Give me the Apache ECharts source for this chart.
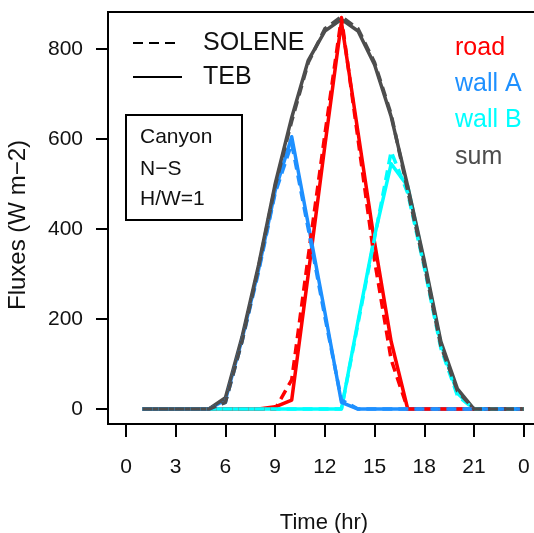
<!DOCTYPE html>
<html>
<head>
<meta charset="utf-8">
<script src="https://cdn.jsdelivr.net/npm/echarts@6/dist/echarts.min.js"></script>
<style>
html, body { margin: 0; padding: 0; background: #fff; }
#chart { width: 534px; height: 533px; }
</style>
</head>
<body>
<div id="chart"></div>
<script>
// hourly values, hours 1..24
const hours = [1, 2, 3, 4, 5, 6, 7, 8, 9, 10, 11, 12, 13, 14, 15, 16, 17, 18, 19, 20, 21, 22, 23, 24]

const roadTEB = [0, 0, 0, 0, 0, 0, 0, 0, 5, 20, 300, 585, 860, 615, 370, 150, 0, 0, 0, 0, 0, 0, 0, 0]
const wallATEB = [0, 0, 0, 0, 0, 20, 155, 310, 485, 605, 410, 215, 15, 0, 0, 0, 0, 0, 0, 0, 0, 0, 0, 0]
const wallBTEB = [0, 0, 0, 0, 0, 0, 0, 0, 0, 0, 0, 0, 0, 195, 385, 545, 495, 325, 145, 35, 0, 0, 0, 0]
const sumTEB = [0, 0, 0, 0, 0, 25, 160, 320, 500, 648, 775, 840, 866, 840, 765, 650, 495, 330, 150, 45, 0, 0, 0, 0]

const roadSOL = [0, 0, 0, 0, 0, 0, 0, 0, 0, 65, 340, 610, 870, 600, 330, 110, 0, 0, 0, 0, 0, 0, 0, 0]
const wallASOL = [0, 0, 0, 0, 0, 15, 150, 305, 480, 590, 400, 205, 20, 0, 0, 0, 0, 0, 0, 0, 0, 0, 0, 0]
const wallBSOL = [0, 0, 0, 0, 0, 0, 0, 0, 0, 0, 0, 0, 0, 190, 380, 572, 480, 315, 135, 30, 0, 0, 0, 0]
const sumSOL = [0, 0, 0, 0, 0, 15, 150, 315, 495, 640, 770, 845, 872, 845, 770, 655, 485, 320, 140, 40, 0, 0, 0, 0]

const xTicks = [0, 3, 6, 9, 12, 15, 18, 21, 24]
const yTicks = [0, 200, 400, 600, 800]

const colRoad = '#ff0000'
const colWallA = '#1e90ff'
const colWallB = '#00ffff'
const colSum = '#4d4d4d'
const font = 'Liberation Sans, Arial, Helvetica, sans-serif'

function pairs(vals) {
  return hours.map((h, i) => [h, vals[i]])
}

function line(name, vals, color, dashed) {
  return {
    name: name,
    type: 'line',
    data: pairs(vals),
    symbol: 'none',
    silent: true,
    lineStyle: {
      color: color,
      width: 3.5,
      type: dashed ? [10, 6] : 'solid',
      cap: 'butt',
      join: 'round'
    }
  }
}

// plot frame (the right side of the box falls outside the picture)
const frame = { left: 108, top: 12, right: 534, bottom: 424 }

const chart = echarts.init(document.getElementById('chart'))
chart.setOption({
  animation: false,
  backgroundColor: '#fff',
  grid: {
    left: frame.left,
    top: frame.top,
    right: 0,
    bottom: 533 - frame.bottom,
    show: false
  },
  xAxis: {
    type: 'value',
    min: -1.086,
    max: 24.62,
    axisLine: { show: false, onZero: false },
    splitLine: { show: false },
    axisTick: {
      customValues: xTicks,
      length: 13,
      lineStyle: { color: '#000', width: 2 }
    },
    axisLabel: {
      customValues: xTicks,
      formatter: v => String(v % 24),
      margin: 33,
      fontSize: 21,
      color: '#111',
      fontFamily: font
    }
  },
  yAxis: {
    type: 'value',
    min: -33.3,
    max: 882.3,
    axisLine: { show: false, onZero: false },
    splitLine: { show: false },
    axisTick: {
      customValues: yTicks,
      length: 12,
      lineStyle: { color: '#000', width: 2 }
    },
    axisLabel: {
      customValues: yTicks,
      margin: 25,
      fontSize: 21,
      color: '#111',
      fontFamily: font
    }
  },
  series: [
    line('road TEB', roadTEB, colRoad, false),
    line('wall B TEB', wallBTEB, colWallB, false),
    line('wall A TEB', wallATEB, colWallA, false),
    line('sum TEB', sumTEB, colSum, false),
    line('road SOLENE', roadSOL, colRoad, true),
    line('wall B SOLENE', wallBSOL, colWallB, true),
    line('wall A SOLENE', wallASOL, colWallA, true),
    line('sum SOLENE', sumSOL, colSum, true)
  ],
  graphic: [
    // box: top, left, bottom
    { type: 'polyline', shape: { points: [[frame.right, frame.top], [frame.left, frame.top], [frame.left, frame.bottom], [frame.right, frame.bottom]] }, style: { stroke: '#000', lineWidth: 2, fill: null } },
    // line-type legend
    { type: 'line', shape: { x1: 133, y1: 43, x2: 176, y2: 43 }, style: { stroke: '#000', lineWidth: 2, lineDash: [10, 6] } },
    { type: 'line', shape: { x1: 133, y1: 77, x2: 182, y2: 77 }, style: { stroke: '#000', lineWidth: 2 } },
    { type: 'text', x: 203, y: 43, style: { text: 'SOLENE', font: '25px ' + font, fill: '#111', textVerticalAlign: 'middle' } },
    { type: 'text', x: 203, y: 77, style: { text: 'TEB', font: '25px ' + font, fill: '#111', textVerticalAlign: 'middle' } },
    // case box
    { type: 'rect', shape: { x: 126, y: 115, width: 116, height: 105 }, style: { fill: '#fff', stroke: '#000', lineWidth: 2 } },
    { type: 'text', x: 140, y: 137, style: { text: 'Canyon', font: '21px ' + font, fill: '#111', textVerticalAlign: 'middle' } },
    { type: 'text', x: 140, y: 169, style: { text: 'N\u2212S', font: '21px ' + font, fill: '#111', textVerticalAlign: 'middle' } },
    { type: 'text', x: 140, y: 199, style: { text: 'H/W=1', font: '21px ' + font, fill: '#111', textVerticalAlign: 'middle' } },
    // colour legend
    { type: 'text', x: 455, y: 48, style: { text: 'road', font: '25px ' + font, fill: colRoad, textVerticalAlign: 'middle' } },
    { type: 'text', x: 455, y: 84, style: { text: 'wall A', font: '25px ' + font, fill: colWallA, textVerticalAlign: 'middle' } },
    { type: 'text', x: 455, y: 120, style: { text: 'wall B', font: '25px ' + font, fill: colWallB, textVerticalAlign: 'middle' } },
    { type: 'text', x: 455, y: 157, style: { text: 'sum', font: '25px ' + font, fill: colSum, textVerticalAlign: 'middle' } },
    // axis titles
    { type: 'text', x: 18, y: 225, rotation: Math.PI / 2, style: { text: 'Fluxes (W m\u22122)', font: '24px ' + font, fill: '#111', textAlign: 'center', textVerticalAlign: 'middle' } },
    { type: 'text', x: 324, y: 523, style: { text: 'Time (hr)', font: '22px ' + font, fill: '#111', textAlign: 'center', textVerticalAlign: 'middle' } }
  ]
})
</script>
</body>
</html>
